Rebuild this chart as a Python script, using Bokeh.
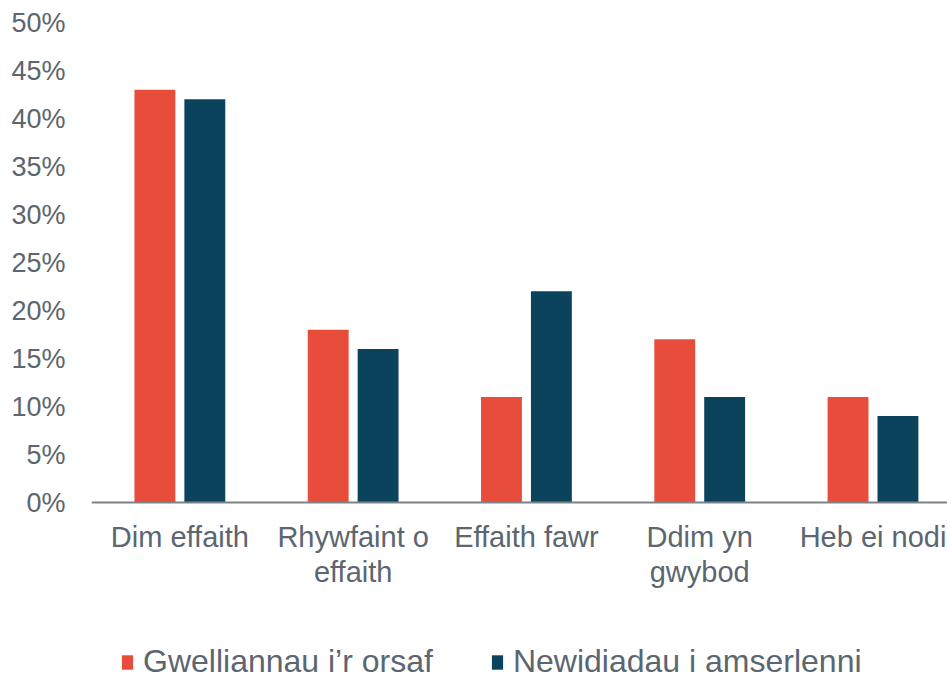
from bokeh.plotting import figure
from bokeh.models import (ColumnDataSource, Range1d, FixedTicker, PrintfTickFormatter,
                          Legend, LegendItem)
from bokeh.transform import dodge
from bokeh.embed import file_html
from bokeh.resources import INLINE

categories = ["Dim effaith", "Rhywfaint o\neffaith", "Effaith fawr", "Ddim yn\ngwybod", "Heb ei nodi"]
gwelliannau = [43, 18, 11, 17, 11]
newidiadau = [42, 16, 22, 11, 9]
series_names = ["Gwelliannau i\u2019r orsaf", "Newidiadau i amserlenni"]
y_ticks = [0, 5, 10, 15, 20, 25, 30, 35, 40, 45, 50]

RED = "#E84D3B"
BLUE = "#0B435D"
TEXT = "#5B6670"
AXIS = "#7B8389"
FONT = "Liberation Sans"

xs = list(range(len(categories)))
src = ColumnDataSource(dict(x=xs, a=gwelliannau, b=newidiadau))

# frame spans from the 50% line down to the bottom of the picture; the x axis is pinned at 0
p = figure(frame_width=856, frame_height=658, output_backend="svg", toolbar_location=None,
           x_range=Range1d(-0.51, 4.43), y_range=Range1d(-18.54, 50),
           min_border_left=91, min_border_right=0, min_border_top=22, min_border_bottom=0)
p.outline_line_color = None
p.grid.visible = False
p.background_fill_color = "white"
p.border_fill_color = "white"

ra = p.vbar(x=dodge("x", -0.144, range=p.x_range), top="a", width=0.236, source=src,
            fill_color=RED, line_color=None)
rb = p.vbar(x=dodge("x", 0.144, range=p.x_range), top="b", width=0.236, source=src,
            fill_color=BLUE, line_color=None)

xa = p.xaxis[0]
xa.fixed_location = 0
xa.ticker = FixedTicker(ticks=xs)
xa.major_label_overrides = {i: c for i, c in enumerate(categories)}
xa.major_tick_line_color = None
xa.minor_tick_line_color = None
xa.major_tick_out = 0
xa.axis_line_color = AXIS
xa.axis_line_width = 2
xa.major_label_text_font = FONT
xa.major_label_text_font_size = "29px"
xa.major_label_text_color = TEXT
xa.major_label_text_line_height = 1.1
xa.major_label_standoff = 18

ya = p.yaxis[0]
ya.ticker = FixedTicker(ticks=y_ticks)
ya.formatter = PrintfTickFormatter(format="%d%%")
ya.axis_line_color = None
ya.major_tick_line_color = None
ya.minor_tick_line_color = None
ya.major_tick_out = 0
ya.major_label_text_font = FONT
ya.major_label_text_font_size = "27px"
ya.major_label_text_color = TEXT
ya.major_label_standoff = 26

legend = Legend(items=[LegendItem(label=series_names[0], renderers=[ra]),
                       LegendItem(label=series_names[1], renderers=[rb])],
                orientation="horizontal", location=(29, 0))
legend.label_text_font = FONT
legend.label_text_font_size = "32px"
legend.label_text_color = TEXT
legend.label_height = 30
legend.glyph_width = 14
legend.glyph_height = 18
legend.label_standoff = 9
legend.spacing = 57
legend.border_line_color = None
legend.background_fill_alpha = 0
legend.margin = 0
legend.padding = 0
p.add_layout(legend)

open("out.html", "w").write(file_html(p, INLINE))
